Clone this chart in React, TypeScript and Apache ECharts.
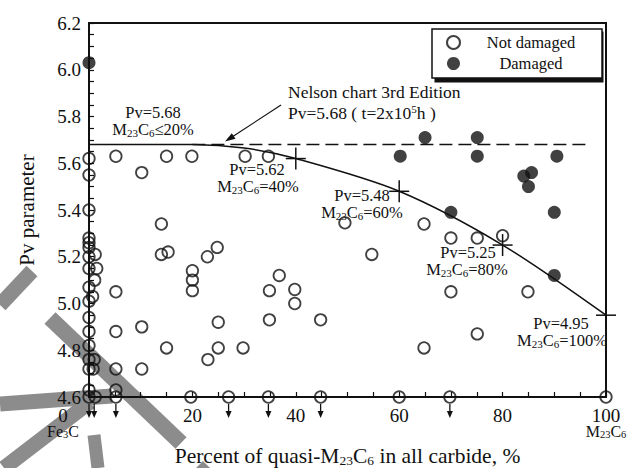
import React, { useEffect, useRef } from 'react';
import * as echarts from 'echarts';

const SERIF = '"Liberation Serif", "Times New Roman", serif';
const INK = '#111';

// ---- data ----
const xMin = 0;
const xMax = 100;
const xInterval = 20;
const yMin = 4.6;
const yMax = 6.2;
const yInterval = 0.2;

const notDamaged: number[][] = [
  [0, 5.62], [0, 5.55], [0, 5.4], [0, 5.28], [0, 5.26], [0, 5.24], [1.2, 5.21], [0, 5.2],
  [0, 5.15], [1.5, 5.15], [1.1, 5.1], [0, 5.07], [0.7, 5.03], [0, 5.01], [0, 4.94], [0, 4.88],
  [0, 4.82], [0, 4.76], [1, 4.76], [0, 4.72], [0.8, 4.72], [0, 4.63], [1.2, 4.6], [0, 4.6],
  [5.2, 5.63], [10.2, 5.56], [15, 5.63], [19.9, 5.63], [30.2, 5.63], [34.7, 5.63],
  [14, 5.34], [14, 5.21], [15.3, 5.22], [5.2, 5.05],
  [20, 5.14], [20, 5.1], [20, 5.055], [22.9, 5.2], [24.8, 5.24],
  [36.8, 5.12], [34.9, 5.055], [39.8, 5.06], [39.8, 5.0],
  [25, 4.92], [34.9, 4.93], [44.8, 4.93],
  [5.2, 4.88], [10.2, 4.9], [15, 4.81], [5.2, 4.72], [10.2, 4.72], [5.2, 4.63],
  [23, 4.76], [25, 4.81], [29.8, 4.81],
  [49.5, 5.345], [54.7, 5.21],
  [64.8, 5.34], [70, 5.28], [75.1, 5.28], [80, 5.29], [70, 5.05], [84.9, 5.05],
  [64.8, 4.81], [75.1, 4.87],
  [5.2, 4.6], [19.7, 4.6], [27, 4.6], [34.7, 4.6], [44.8, 4.6], [60, 4.6], [69.8, 4.6], [100, 4.6],
];

const damaged: number[][] = [
  [0, 6.03], [60.2, 5.63], [65, 5.71], [75.1, 5.71], [75.1, 5.63], [90.5, 5.63],
  [84.1, 5.545], [85.6, 5.56], [85, 5.5], [70, 5.39], [90, 5.39], [90, 5.12],
];

// Pv limit curve
const curveX = [0, 20, 30, 40, 60, 80, 100];
const curveY = [5.68, 5.68, 5.665, 5.62, 5.48, 5.25, 4.95];

const nelsonPv = 5.68;
const nelsonFrom = 20;
const nelsonTo = 97;

const crossPoints: number[][] = [[40, 5.62], [60, 5.48], [80, 5.25], [100, 4.95]];
const arrowPoints: number[][] = [
  [0, 4.6], [1, 4.6], [5.2, 4.6], [27, 4.6], [34.7, 4.6], [44.8, 4.6], [69.8, 4.6],
];

const seriesNames = ['Not damaged', 'Damaged'];

// ---- styles ----
const BAND = '#8c8c8c';

function txt(x: number, y: number, text: string, align: string = 'center', size = 16.5) {
  const r = {
    a: { fontFamily: SERIF, fontSize: size, color: INK },
    s: { fontFamily: SERIF, fontSize: 11, color: INK, padding: [7, 0, 0, 0] },
    p: { fontFamily: SERIF, fontSize: 11, color: INK, padding: [0, 0, 8, 0] },
  };
  return {
    type: 'text',
    x,
    y,
    z: 50,
    silent: true,
    style: {
      text,
      rich: r,
      align,
      verticalAlign: 'middle',
      fill: INK,
      fontFamily: SERIF,
      fontSize: size,
    },
  };
}

function band(points: number[][], width = 16) {
  return {
    type: 'polyline',
    z: -10,
    silent: true,
    shape: { points },
    style: { stroke: BAND, lineWidth: width, fill: null, lineCap: 'butt', lineJoin: 'round' },
  };
}

export default function App() {
  const ref = useRef<HTMLDivElement>(null);

  useEffect(() => {
    if (!ref.current) return;
    const chart = echarts.init(ref.current, undefined, { renderer: 'svg' });

    const xLabelRich: any = {
      n: { fontFamily: SERIF, fontSize: 19, color: INK, lineHeight: 18 },
      n0: { fontFamily: SERIF, fontSize: 19, color: INK, lineHeight: 18, padding: [0, 52, 0, 0] },
      f: { fontFamily: SERIF, fontSize: 16, color: INK, lineHeight: 14 },
      f0: { fontFamily: SERIF, fontSize: 16, color: INK, lineHeight: 14, padding: [0, 52, 0, 0] },
      fs: { fontFamily: SERIF, fontSize: 10.5, color: INK, lineHeight: 10, padding: [7, 0, 0, 0] },
    };

    const option: any = {
      animation: false,
      backgroundColor: '#fff',
      grid: {
        left: 89,
        right: 32,
        top: 23,
        bottom: 71,
        show: true,
        borderColor: INK,
        borderWidth: 2,
        backgroundColor: 'transparent',
        containLabel: false,
        outerBoundsMode: 'none',
      },
      legend: {
        data: seriesNames,
        orient: 'vertical',
        left: 432,
        top: 29,
        itemWidth: 13,
        itemHeight: 13,
        itemGap: 4,
        padding: [5, 5, 6, 14],
        backgroundColor: '#fff',
        borderColor: INK,
        borderWidth: 1.5,
        selectedMode: false,
        z: 10,
        formatter: (name: string) => `{c|${name}}`,
        textStyle: {
          rich: {
            c: { fontFamily: SERIF, fontSize: 16.5, color: INK, width: 132, align: 'center', lineHeight: 18 },
          },
        },
      },
      xAxis: {
        type: 'value',
        min: xMin,
        max: xMax,
        interval: xInterval,
        name: '{a|Percent of quasi-M}{s|23}{a|C}{s|6}{a| in all carbide, %}',
        nameLocation: 'middle',
        nameGap: 40,
        nameTextStyle: {
          rich: {
            a: { fontFamily: SERIF, fontSize: 21.5, color: INK },
            s: { fontFamily: SERIF, fontSize: 13.5, color: INK, padding: [10, 0, 0, 0] },
          },
        },
        axisLine: { show: true, onZero: false, lineStyle: { color: INK, width: 2 } },
        axisTick: { show: true, inside: true, length: 5, lineStyle: { color: INK, width: 1.2 } },
        minorTick: { show: true, splitNumber: 4, length: 5, lineStyle: { color: INK, width: 1.2 } },
        splitLine: { show: false },
        axisLabel: {
          margin: 9,
          color: INK,
          fontFamily: SERIF,
          fontSize: 19,
          formatter: (v: number) => {
            if (v === 0) return '{n0|0}\n{f|Fe}{fs|3}{f0|C}';
            if (v === 100) return '{n|100}\n{f|M}{fs|23}{f|C}{fs|6}';
            return `{n|${v}}`;
          },
          rich: xLabelRich,
        },
      },
      yAxis: {
        type: 'value',
        min: yMin,
        max: yMax,
        interval: yInterval,
        name: 'Pv parameter',
        nameLocation: 'middle',
        nameGap: 52,
        nameTextStyle: { fontFamily: SERIF, fontSize: 21, color: INK },
        axisLine: { show: true, onZero: false, lineStyle: { color: INK, width: 2 } },
        axisTick: { show: true, inside: true, length: 5, lineStyle: { color: INK, width: 1.2 } },
        minorTick: { show: true, splitNumber: 4, length: 5, lineStyle: { color: INK, width: 1.2 } },
        splitLine: { show: false },
        axisLabel: {
          margin: 8,
          color: INK,
          fontFamily: SERIF,
          fontSize: 19,
          formatter: (v: number) => v.toFixed(1),
        },
      },
      series: [
        {
          name: 'curve',
          type: 'line',
          data: curveX.map((x, i) => [x, curveY[i]]),
          smooth: 0.3,
          showSymbol: false,
          symbol: 'none',
          lineStyle: { color: INK, width: 1.5 },
          silent: true,
          z: 3,
        },
        {
          name: 'nelson',
          type: 'line',
          data: [[nelsonFrom, nelsonPv], [nelsonTo, nelsonPv]],
          showSymbol: false,
          symbol: 'none',
          lineStyle: { color: INK, width: 1.5, type: [13, 6] },
          silent: true,
          z: 3,
        },
        {
          name: 'crosses',
          type: 'custom',
          data: crossPoints,
          silent: true,
          z: 4,
          renderItem: (params: any, api: any) => {
            const p = api.coord([api.value(0), api.value(1)]);
            const st = { stroke: INK, lineWidth: 1.5 };
            return {
              type: 'group',
              children: [
                { type: 'line', shape: { x1: p[0] - 10, y1: p[1], x2: p[0] + 10, y2: p[1] }, style: st },
                { type: 'line', shape: { x1: p[0], y1: p[1] - 11, x2: p[0], y2: p[1] + 11 }, style: st },
              ],
            };
          },
        },
        {
          name: 'arrows',
          type: 'custom',
          data: arrowPoints,
          silent: true,
          z: 4,
          renderItem: (params: any, api: any) => {
            const p = api.coord([api.value(0), api.value(1)]);
            return {
              type: 'group',
              children: [
                {
                  type: 'line',
                  shape: { x1: p[0], y1: p[1] + 7, x2: p[0], y2: p[1] + 15 },
                  style: { stroke: INK, lineWidth: 1.3 },
                },
                {
                  type: 'polygon',
                  shape: { points: [[p[0] - 3, p[1] + 14], [p[0] + 3, p[1] + 14], [p[0], p[1] + 21]] },
                  style: { fill: INK },
                },
              ],
            };
          },
        },
        {
          name: seriesNames[0],
          type: 'scatter',
          data: notDamaged,
          symbol: 'circle',
          symbolSize: 11.5,
          clip: false,
          z: 5,
          itemStyle: { color: 'rgba(255,255,255,0)', borderColor: INK, borderWidth: 1.8 },
        },
        {
          name: seriesNames[1],
          type: 'scatter',
          data: damaged,
          symbol: 'circle',
          symbolSize: 13,
          clip: false,
          z: 6,
          itemStyle: { color: INK, borderColor: INK, borderWidth: 0 },
        },
      ],
      graphic: [
        // scan artefact strokes
        band([[0, 305], [32, 271]], 15),
        band([[50, 318], [181, 443]], 16),
        band([[0, 404], [55, 400], [112, 396]], 15),
        band([[4, 468], [90, 402]], 15),
        band([[94, 435], [98, 468]], 13),
        { type: 'polygon', z: -10, silent: true, shape: { points: [[196, 468], [203, 461], [210, 468]] }, style: { fill: BAND } },
        // legend box shadow
        { type: 'rect', z: 1, silent: true, shape: { x: 434.5, y: 31.5, width: 169, height: 51 }, style: { fill: INK } },
        // annotations
        txt(153, 112, '{a|Pv=5.68}'),
        txt(153, 129, '{a|M}{s|23}{a|C}{s|6}{a|≤20%}'),
        txt(288, 92, '{a|Nelson chart 3rd Edition}', 'left', 17.5),
        txt(288, 113, '{a|Pv=5.68 ( t=2x10}{p|5}{a|h )}', 'left', 17.5),
        txt(257, 169, '{a|Pv=5.62}'),
        txt(258, 186, '{a|M}{s|23}{a|C}{s|6}{a|=40%}'),
        txt(362, 195, '{a|Pv=5.48}'),
        txt(362, 212, '{a|M}{s|23}{a|C}{s|6}{a|=60%}'),
        txt(468, 252, '{a|Pv=5.25}'),
        txt(467, 269, '{a|M}{s|23}{a|C}{s|6}{a|=80%}'),
        txt(561, 323, '{a|Pv=4.95}'),
        txt(562, 340, '{a|M}{s|23}{a|C}{s|6}{a|=100%}'),
        {
          type: 'line',
          z: 50,
          silent: true,
          shape: { x1: 281, y1: 105, x2: 229, y2: 139 },
          style: { stroke: INK, lineWidth: 1.2 },
        },
        {
          type: 'polygon',
          z: 50,
          silent: true,
          shape: { points: [[225, 141.5], [235.5, 138.8], [231.8, 133.2]] },
          style: { fill: INK },
        },
      ],
    };

    chart.setOption(option);
    return () => chart.dispose();
  }, []);

  return (
    <div
      ref={ref}
      style={{ position: 'fixed', left: 0, top: 0, width: 638, height: 468, background: '#fff' }}
    />
  );
}
